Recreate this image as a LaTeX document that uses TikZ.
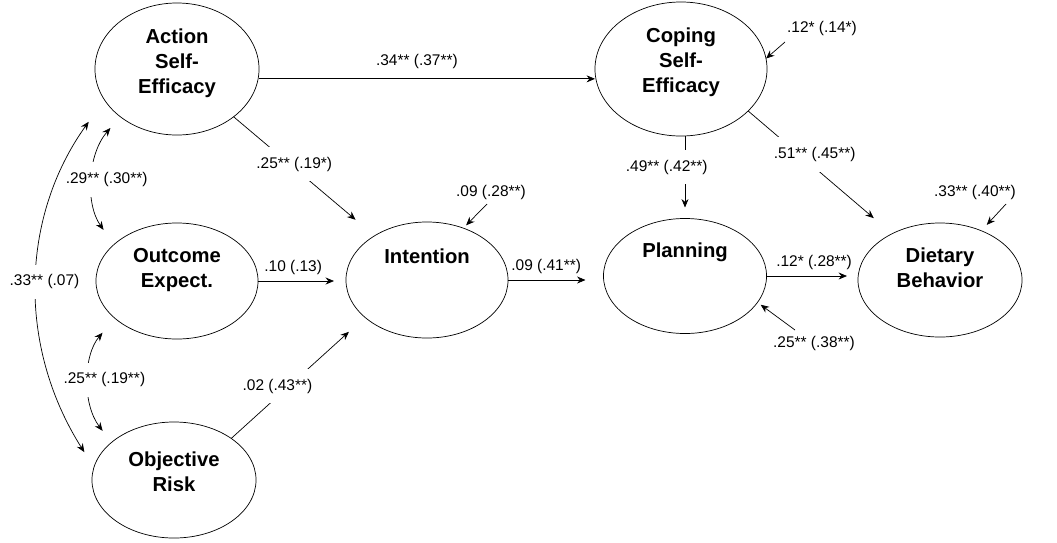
\documentclass[tikz,border=0pt]{standalone}
\usepackage{fontspec}
\setmainfont{Liberation Sans}
\usetikzlibrary{shapes.geometric,arrows.meta}

\tikzset{
  latent/.style={ellipse, draw, line width=0.5pt, inner sep=0pt, outer sep=0pt},
  title/.style={font=\bfseries\fontsize{14.4}{17.7}\selectfont, align=center, inner sep=0pt},
  est/.style={font=\fontsize{11}{13}\selectfont, inner sep=1pt},
  cut/.style={est, fill=white, inner xsep=1pt, inner ysep=7pt},
  effect/.style={line width=0.5pt, -{Stealth[length=6pt,width=5pt,inset=2pt]}},
  corr/.style={line width=0.5pt, {Stealth[length=6pt,width=5pt,inset=2pt]}-{Stealth[length=6pt,width=5pt,inset=2pt]}},
}

\begin{document}
\begin{tikzpicture}[x=0.025cm, y=-0.025cm]
  \fill[white] (0,0) rectangle (1057,542);

  % Latent variables
  \node[latent, minimum width=4.1cm, minimum height=3.3cm] (action) at (177,69) {};
  \node[latent, minimum width=4.05cm, minimum height=2.9cm] (outcome) at (177,281) {};
  \node[latent, minimum width=4.1cm, minimum height=2.9cm] (risk) at (174,480) {};
  \node[latent, minimum width=4.05cm, minimum height=2.9cm] (intention) at (427,280) {};
  \node[latent, minimum width=4.3cm, minimum height=3.35cm] (coping) at (681,69) {};
  \node[latent, minimum width=4.075cm, minimum height=2.875cm] (planning) at (685,276) {};
  \node[latent, minimum width=4.1cm, minimum height=2.85cm] (dietary) at (940,280) {};

  % Titles
  \node[title] (action-t) at ([yshift=4pt]action.center) {Action\\Self-\\Efficacy};
  \node[title] (outcome-t) at ([yshift=8pt]outcome.center) {Outcome\\Expect.};
  \node[title] (risk-t) at ([yshift=6pt]risk.center) {Objective\\Risk};
  \node[title] (intention-t) at ([yshift=17pt]intention.center) {Intention};
  \node[title] (coping-t) at ([yshift=5pt]coping.center) {Coping\\Self-\\Efficacy};
  \node[title] (planning-t) at ([yshift=17pt]planning.center) {Planning};
  \node[title] (dietary-t) at ([yshift=8.5pt]dietary.center) {Dietary\\Behavior};

  % Paths
  \draw[effect] ([yshift=-7pt]action.east) -- node[est, pos=.47, above=6pt] {.34** (.37**)} ([yshift=-7pt]action.east -| coping.west);
  \draw[effect, shorten >=0.62cm] (action) -- node[cut, pos=.40, xshift=3pt] {.25** (.19*)} (intention);
  \draw[effect, shorten >=0.3cm] (outcome.east) -- node[est, pos=.4, above=3pt] {.10 (.13)} (outcome.east -| intention.west);
  \draw[effect, shorten >=0.54cm] (risk.36) -- node[cut, pos=.43, xshift=-8pt] {.02 (.43**)} (intention.211);
  \draw[effect, shorten >=0.45cm] (intention.east) -- node[est, pos=.4, above=3pt] {.09 (.41**)} (intention.east -| planning.west);
  \draw[effect, shorten >=0.275cm] (coping.south -| planning.north) -- node[cut, pos=.38, xshift=-13pt] {.49** (.42**)} (planning.north);
  \draw[effect, shorten >=0.6cm] (coping.328) -- node[cut, pos=.355, xshift=11pt] {.51** (.45**)} (dietary.136);
  \draw[effect, shorten >=0.275cm] (planning.east) -- node[est, pos=.52, above=3pt] {.12* (.28**)} (planning.east -| dietary.west);

  % Correlations
  \draw[corr, shorten <=0.375cm, shorten >=0.45cm] (action.220) to[bend right=38] node[cut, xshift=9pt] {.29** (.30**)} (outcome.150);
  \draw[corr, shorten <=0.475cm, shorten >=0.365cm] (outcome.211) to[bend right=39] node[cut, xshift=10pt] {.25** (.19**)} (risk.149);
  \draw[corr, shorten <=0.675cm, shorten >=0.45cm] (action.203) to[bend right=34] node[cut, xshift=4pt] {.33** (.07)} (risk.171);

  % Residuals
  \node[est] (d-coping) at (822,28) {.12* (.14*)};
  \node[est] (d-intention) at (491,192) {.09 (.28**)};
  \node[est] (d-dietary) at (975,192) {.33** (.40**)};
  \node[est] (d-planning) at (814,343) {.25** (.38**)};
  \coordinate (e-coping) at (785,42);
  \coordinate (e-intention) at (487,204);
  \coordinate (e-dietary) at (1006,204);
  \coordinate (e-planning) at (795,330);
  \draw[effect] (e-coping) -- (coping.7);
  \draw[effect, shorten >=0.1cm] (e-intention) -- (intention.55);
  \draw[effect, shorten >=0.2cm] (e-dietary) -- (dietary.50);
  \draw[effect, shorten >=0.1cm] (e-planning) -- (planning.340);
\end{tikzpicture}
\end{document}
